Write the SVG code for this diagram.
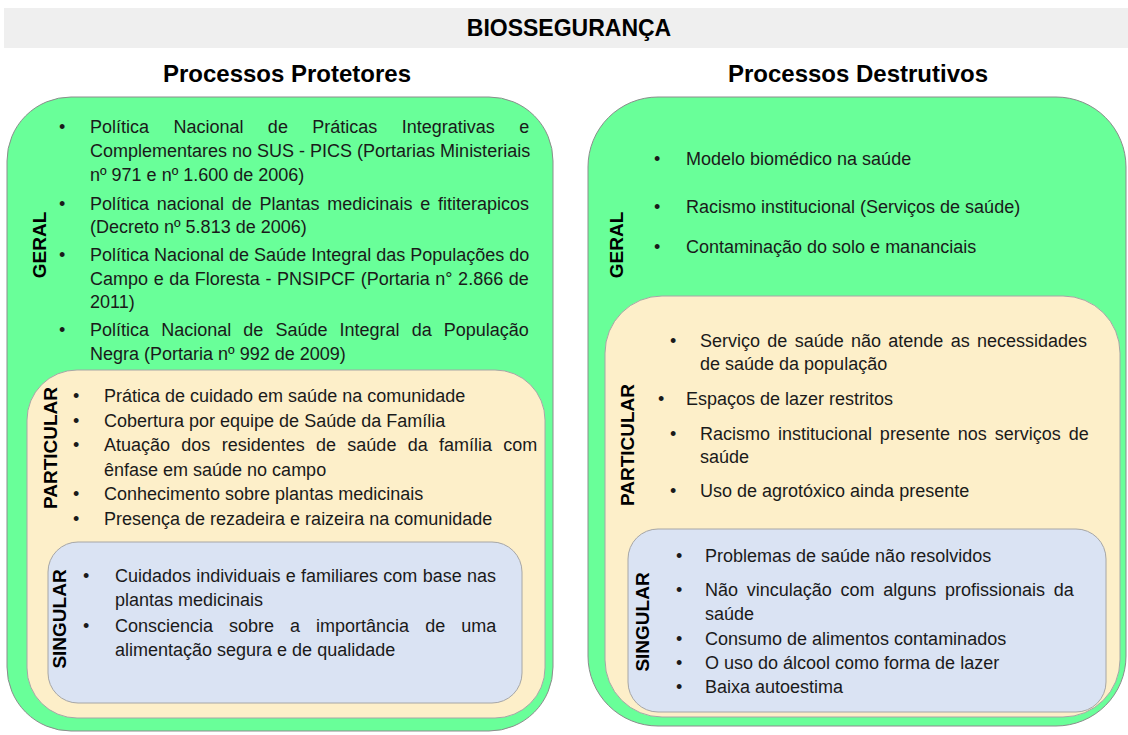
<svg xmlns="http://www.w3.org/2000/svg" width="1128" height="735" viewBox="0 0 1128 735">
<style>
.t{font-family:"Liberation Sans",Arial,sans-serif;font-size:18px;fill:#1a1a1a}
.b{font-family:"Liberation Sans",Arial,sans-serif;font-size:18px;fill:#1a1a1a}
.lbl{font-family:"Liberation Sans",Arial,sans-serif;font-weight:bold;font-size:19px;fill:#000;text-anchor:middle;dominant-baseline:central}
.h{font-family:"Liberation Sans",Arial,sans-serif;font-weight:bold;fill:#000;text-anchor:middle}
.green{fill:#69ff99;stroke:#8c8c8c;stroke-width:1}
.cream{fill:#fdefc9;stroke:#a6a6a6;stroke-width:1}
.blue{fill:#dae3f3;stroke:#a6a6a6;stroke-width:1}
</style>
<rect width="1128" height="735" fill="#ffffff"/>
<g id="title">
<rect x="4" y="8" width="1124" height="40" fill="#efefef"/>
<text class="h" x="569" y="36" font-size="23">BIOSSEGURANÇA</text>
</g>
<g id="heading-protetores"><text class="h" x="287" y="82" font-size="24">Processos Protetores</text></g>
<g id="heading-destrutivos"><text class="h" x="858" y="82" font-size="24">Processos Destrutivos</text></g>

<g id="protetores-geral">
<rect class="green" x="7" y="97" width="546" height="634" rx="64"/>
<text class="lbl" transform="translate(39,245) rotate(-90)">GERAL</text>
<text class="b" x="59" y="133">•</text>
<text class="t" x="90" y="133" word-spacing="19.4">Política Nacional de Práticas Integrativas e</text>
<text class="t" x="90" y="157">Complementares no SUS - PICS (Portarias Ministeriais</text>
<text class="t" x="90" y="181">nº 971 e nº 1.600 de 2006)</text>
<text class="b" x="59" y="210">•</text>
<text class="t" x="90" y="210" word-spacing="2.8">Política nacional de Plantas medicinais e fititerapicos</text>
<text class="t" x="90" y="233">(Decreto nº 5.813 de 2006)</text>
<text class="b" x="59" y="261">•</text>
<text class="t" x="90" y="261">Política Nacional de Saúde Integral das Populações do</text>
<text class="t" x="90" y="285" word-spacing="0.6">Campo e da Floresta - PNSIPCF (Portaria n° 2.866 de</text>
<text class="t" x="90" y="308">2011)</text>
<text class="b" x="59" y="336">•</text>
<text class="t" x="90" y="336" word-spacing="7.1">Política Nacional de Saúde Integral da População</text>
<text class="t" x="90" y="360">Negra (Portaria nº 992 de 2009)</text>
</g>

<g id="protetores-particular">
<rect class="cream" x="27" y="370" width="518" height="348" rx="50"/>
<text class="lbl" transform="translate(50,448) rotate(-90)">PARTICULAR</text>
<text class="b" x="73" y="402">•</text>
<text class="t" x="104" y="402">Prática de cuidado em saúde na comunidade</text>
<text class="b" x="73" y="427">•</text>
<text class="t" x="104" y="427">Cobertura por equipe de Saúde da Família</text>
<text class="b" x="73" y="451">•</text>
<text class="t" x="104" y="451" word-spacing="6.3">Atuação dos residentes de saúde da família com</text>
<text class="t" x="104" y="476">ênfase em saúde no campo</text>
<text class="b" x="73" y="500">•</text>
<text class="t" x="104" y="500">Conhecimento sobre plantas medicinais</text>
<text class="b" x="73" y="525">•</text>
<text class="t" x="104" y="525">Presença de rezadeira e raizeira na comunidade</text>
</g>

<g id="protetores-singular">
<rect class="blue" x="48" y="542" width="474" height="161" rx="30"/>
<text class="lbl" transform="translate(59,619) rotate(-90)">SINGULAR</text>
<text class="b" x="83" y="582">•</text>
<text class="t" x="115" y="582" word-spacing="0.3">Cuidados individuais e familiares com base nas</text>
<text class="t" x="115" y="606">plantas medicinais</text>
<text class="b" x="83" y="632">•</text>
<text class="t" x="115" y="632" word-spacing="11">Consciencia sobre a importância de uma</text>
<text class="t" x="115" y="656">alimentação segura e de qualidade</text>
</g>

<g id="destrutivos-geral">
<rect class="green" x="588" y="97" width="538" height="629" rx="70"/>
<text class="lbl" transform="translate(616,245) rotate(-90)">GERAL</text>
<text class="b" x="654" y="165">•</text>
<text class="t" x="686" y="165">Modelo biomédico na saúde</text>
<text class="b" x="654" y="213">•</text>
<text class="t" x="686" y="213">Racismo institucional (Serviços de saúde)</text>
<text class="b" x="654" y="253">•</text>
<text class="t" x="686" y="253">Contaminação do solo e mananciais</text>
</g>

<g id="destrutivos-particular">
<rect class="cream" x="605" y="296" width="515" height="421" rx="57"/>
<text class="lbl" transform="translate(627,445) rotate(-90)">PARTICULAR</text>
<text class="b" x="670" y="347">•</text>
<text class="t" x="700" y="347" word-spacing="2.3">Serviço de saúde não atende as necessidades</text>
<text class="t" x="700" y="370">de saúde da população</text>
<text class="b" x="658" y="405">•</text>
<text class="t" x="686" y="405">Espaços de lazer restritos</text>
<text class="b" x="670" y="440">•</text>
<text class="t" x="700" y="440" word-spacing="2.9">Racismo institucional presente nos serviços de</text>
<text class="t" x="700" y="463">saúde</text>
<text class="b" x="670" y="497">•</text>
<text class="t" x="700" y="497">Uso de agrotóxico ainda presente</text>
</g>

<g id="destrutivos-singular">
<rect class="blue" x="628" y="529" width="478" height="183" rx="30"/>
<text class="lbl" transform="translate(642,622) rotate(-90)">SINGULAR</text>
<text class="b" x="676" y="562">•</text>
<text class="t" x="705" y="562">Problemas de saúde não resolvidos</text>
<text class="b" x="676" y="596">•</text>
<text class="t" x="705" y="596" word-spacing="3.7">Não vinculação com alguns profissionais da</text>
<text class="t" x="705" y="620">saúde</text>
<text class="b" x="676" y="645">•</text>
<text class="t" x="705" y="645">Consumo de alimentos contaminados</text>
<text class="b" x="676" y="669">•</text>
<text class="t" x="705" y="669">O uso do álcool como forma de lazer</text>
<text class="b" x="676" y="693">•</text>
<text class="t" x="705" y="693">Baixa autoestima</text>
</g>
</svg>
